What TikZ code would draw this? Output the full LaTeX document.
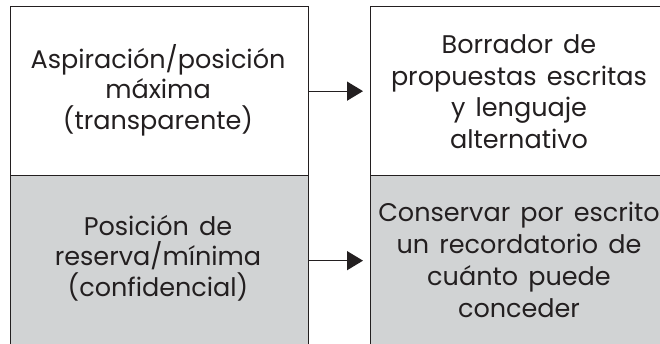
\documentclass[tikz,border=0pt]{standalone}
\usepackage{fontspec}
\setmainfont{Poppins}[WordSpace=1.5]
\usetikzlibrary{arrows.meta}
\definecolor{cellgray}{HTML}{D1D3D4}
\definecolor{ink}{HTML}{231F20}
\newcommand{\topstrut}{\rule{0pt}{28pt}}
\newcommand{\lblfontL}{\fontsize{25.5}{30.5}\selectfont\lineskiplimit=-20pt\relax}
\newcommand{\lblfontR}{\fontsize{25.5}{31.7}\selectfont\lineskiplimit=-20pt\relax}
\begin{document}
\begin{tikzpicture}[x=1pt,y=-1pt,
  cell/.style={draw=ink, line width=1.3pt, inner sep=0pt, minimum width=298pt, anchor=north west},
  lbl/.style={align=center, text=ink, inner sep=0pt, anchor=north},
  lblL/.style={lbl, font=\lblfontL},
  lblR/.style={lbl, font=\lblfontR},
  arr/.style={draw=ink, line width=1.3pt, -{Triangle[length=16pt,width=19pt]}, shorten >=7pt}]
\useasboundingbox (0,0) rectangle (660,343);
\clip (0,0) rectangle (660,343);
\node[cell, fill=white, minimum height=169pt] (lt) at (10,6) {};
\node[cell, fill=cellgray, minimum height=170pt] (lb) at (10,175) {};
\node[cell, fill=white, minimum height=169pt] (rt) at (370,6) {};
\node[cell, fill=cellgray, minimum height=170pt] (rb) at (370,175) {};
\node[lblL] (ltt) at (158,40) {\topstrut Aspiración/posición\\máxima\\(transparente)};
\node[lblL] (lbt) at (158,207) {\topstrut Posición de\\reserva/mínima\\(confidencial)};
\node[lblR] (rtt) at (519,25.3) {\topstrut Borrador de\\propuestas escritas\\y lenguaje\\alternativo};
\node[lblR] (rbt) at (519,193.7) {\topstrut Conservar por escrito\\un recordatorio de\\cuánto puede\\conceder};
\draw[arr] (lt.east) -- (rt.west);
\draw[arr] (lb.east) -- (rb.west);
\end{tikzpicture}
\end{document}
